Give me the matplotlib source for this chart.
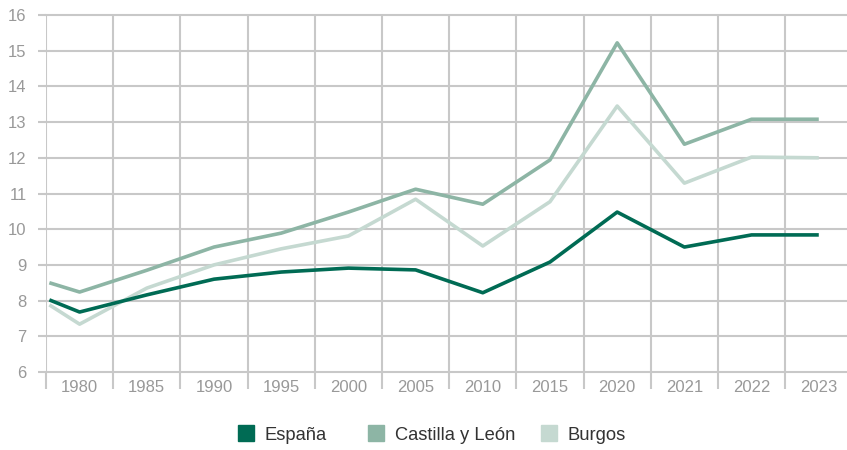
import matplotlib.pyplot as plt
import numpy as np
from matplotlib.lines import Line2D

plt.rcParams['font.family'] = ['Liberation Sans', 'DejaVu Sans']

# Categories on the x axis
years = ['1980', '1985', '1990', '1995', '2000', '2005', '2010',
         '2015', '2020', '2021', '2022', '2023']
# the series begin slightly left of the first category
x_pos = [-0.45] + list(range(len(years)))

espana = [8.02, 7.68, 8.16, 8.6, 8.8, 8.91, 8.86, 8.22, 9.08, 10.48, 9.5, 9.84, 9.84]
castilla = [8.5, 8.24, 8.85, 9.5, 9.89, 10.48, 11.12, 10.7, 11.94, 15.22, 12.38, 13.08, 13.08]
burgos = [7.88, 7.34, 8.35, 9.0, 9.45, 9.81, 10.84, 9.53, 10.77, 13.45, 11.29, 12.02, 12.0]

names = ['España', 'Castilla y León', 'Burgos']
colors = ['#006b54', '#8db5a5', '#c5d9d1']

fig = plt.figure(figsize=(8.47, 4.5), dpi=100)
ax = fig.add_axes([46 / 847, 1 - 372 / 450, 801 / 847, 357 / 450])

grid_col = '#c8c8c8'
for yv in range(6, 17):
    ax.axhline(yv, color=grid_col, lw=1.5, zorder=1, clip_on=False)
for xv in np.arange(-0.5, len(years) - 1, 1.0):
    ax.axvline(xv, color=grid_col, lw=1.5, zorder=1)

# order: lightest drawn first
ax.plot(x_pos, burgos, color=colors[2], lw=2.6, zorder=3, solid_capstyle='butt')
ax.plot(x_pos, castilla, color=colors[1], lw=2.6, zorder=4, solid_capstyle='butt')
ax.plot(x_pos, espana, color=colors[0], lw=2.6, zorder=5, solid_capstyle='butt')

ax.set_xlim(-0.5, 11.42)
ax.set_ylim(6, 16)
ax.set_yticks(range(6, 17))
ax.set_xticks(range(len(years)))
ax.set_xticklabels(years)
ax.set_xticks(np.arange(-0.5, len(years) - 1, 1.0), minor=True)

for s in ax.spines.values():
    s.set_visible(False)
ax.tick_params(axis='y', length=6, width=1.5, color=grid_col, labelcolor='#999999',
               labelsize=12, pad=8)
ax.tick_params(axis='x', which='major', length=0, labelcolor='#999999',
               labelsize=12, pad=6)
ax.tick_params(axis='x', which='minor', length=12, width=1.5, color=grid_col)

# legend entries placed one by one (left edge of each entry, in pixels)
legend_left = [237, 367, 540]
for name, c, lx in zip(names, colors, legend_left):
    h = Line2D([], [], ls='none', marker='s', markersize=11.5, color=c)
    fig.legend([h], [name], loc='center left', bbox_to_anchor=(lx / 847, 1 - 435 / 450),
               frameon=False, fontsize=13.2, handletextpad=0.5, borderpad=0,
               borderaxespad=0, labelcolor='#333333', handlelength=1.0)

fig.savefig('out.png', dpi=100)
